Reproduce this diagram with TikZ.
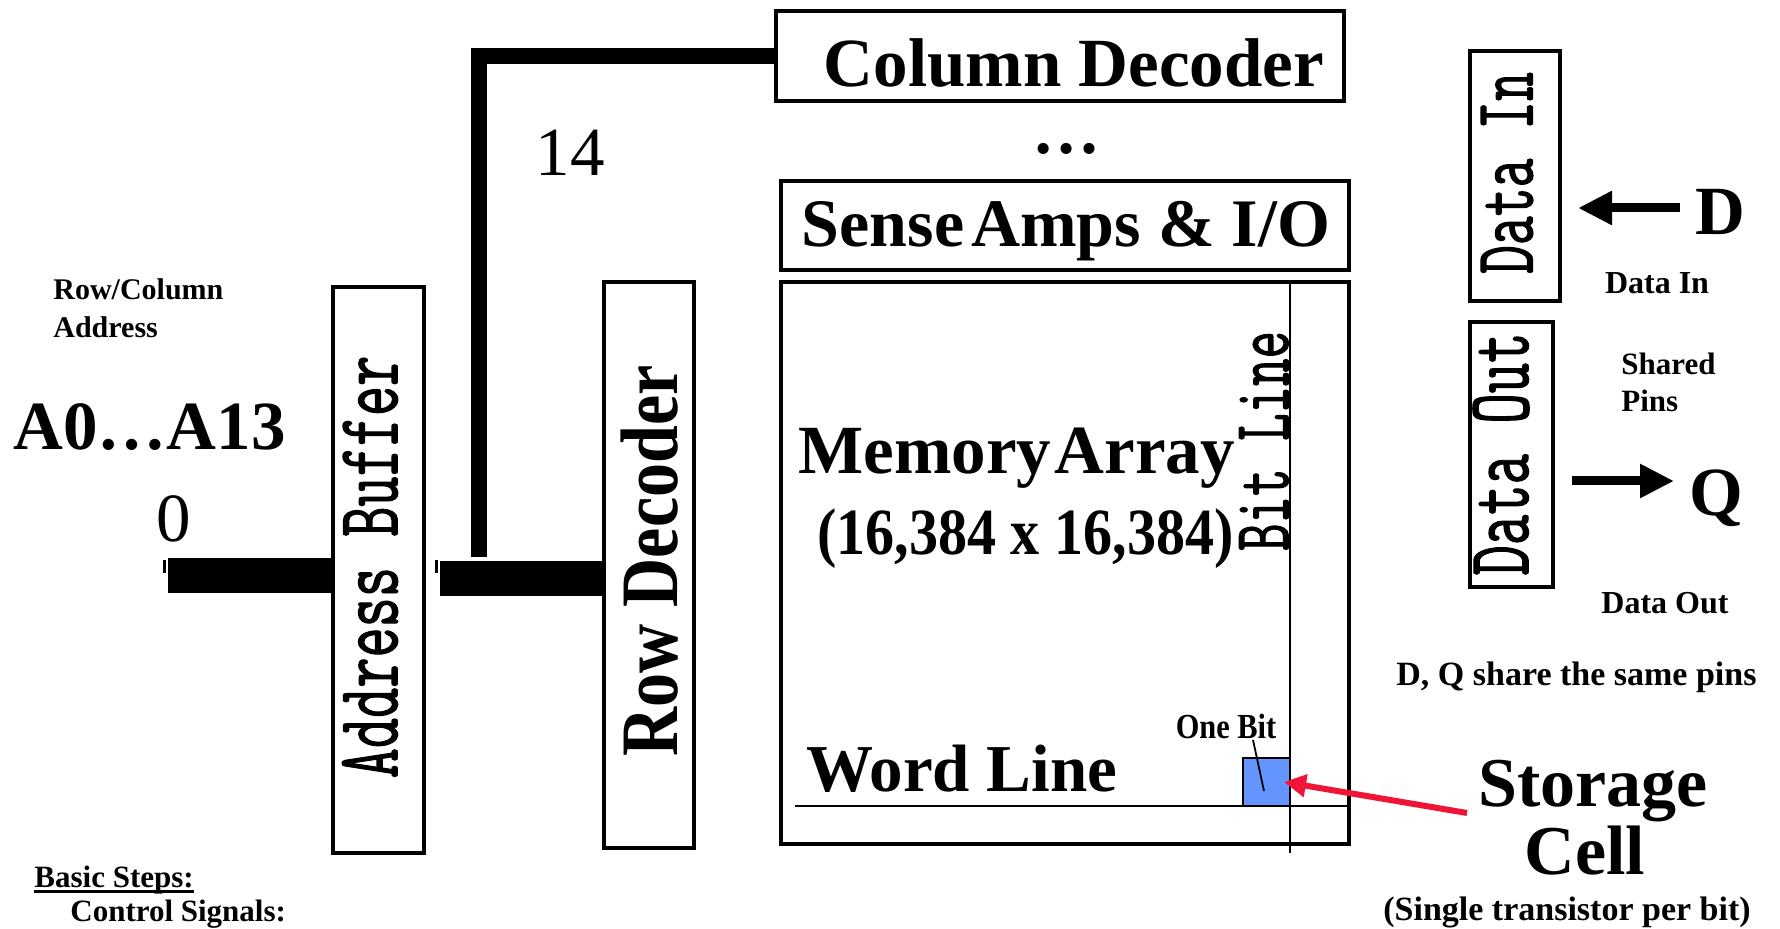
\documentclass[tikz,border=0pt]{standalone}
\usepackage{fontspec}
\setmainfont{Liberation Serif}
\newfontfamily\monof[FakeBold=1.6]{Latin Modern Mono}
\usetikzlibrary{arrows.meta}
\definecolor{cellblue}{RGB}{100,149,255}
\definecolor{arrred}{RGB}{240,20,55}
\newcommand\bsz[1]{\fontsize{#1}{#1}\selectfont\bfseries}
\newcommand\rsz[1]{\fontsize{#1}{#1}\selectfont}
\newcommand\msz[1]{\monof\fontsize{#1}{#1}\selectfont}
\begin{document}
\begin{tikzpicture}[x=0.5pt,y=-0.5pt,
  bx/.style={draw, line width=2.2pt, inner sep=0pt, fill=white},
  lbl/.style={inner sep=0pt, anchor=base},
  lblw/.style={inner sep=0pt, anchor=base west},
  vmono/.style={inner sep=0pt, rotate=90},
  thinline/.style={line width=1.1pt},
  busthin/.style={line width=8pt, line join=miter},
  busthick/.style={line width=17.5pt},
  blkarrow/.style={line width=4.5pt, -{Triangle[length=17pt,width=16pt]}},
  redarrow/.style={arrred, line width=3pt, -{Triangle[length=11pt,width=11pt]}}
]
\useasboundingbox (0,0) rectangle (1780,929);

% boxes
\node[bx, minimum width=284pt, minimum height=45pt] (coldec) at (1060,56) {};
\node[bx, minimum width=284pt, minimum height=44.5pt] (sense) at (1065,225.5) {};
\node[bx, minimum width=284pt, minimum height=281pt] (mem) at (1065,563) {};
\node[bx, minimum width=45.5pt, minimum height=283pt] (addrbuf) at (378.5,570) {};
\node[bx, minimum width=45pt, minimum height=283pt] (rowdec) at (649,565) {};
\node[bx, minimum width=45pt, minimum height=125pt] (datain) at (1515,176) {};
\node[bx, minimum width=41.5pt, minimum height=132.5pt] (dataout) at (1511.5,454.5) {};

% box texts
\node[lbl, font=\bsz{34.5}] (coldect) at (1074,87) {Column Decoder};
\node[lbl, font=\bsz{34}] (dots) at (1066,154) {\ldots};
\node[lbl, font=\bsz{34}] (senset) at (1066,247) {Sense\hspace{0.1em}Amps \& I/O};
\node[lblw, font=\bsz{34.5}] (memt) at (798,474) {Memory\hspace{0.05em}Array};
\node[lblw, font=\bsz{33}] (memsz) at (817,554) {\scalebox{0.88}[1]{(16,384 x 16,384)}};
\node[lblw, font=\bsz{33.5}] (wordt) at (806,791) {Word Line};
\node[vmono, font=\msz{29.3}] (abt) at (370,567) {\scalebox{1}[1.5]{Address Buffer}};
\node[inner sep=0pt, rotate=90, font=\bsz{34}] (rdt) at (650,561) {\scalebox{1}[1.2]{Row Decoder}};
\node[vmono, font=\msz{26.7}] (blt) at (1264,441) {\scalebox{1}[1.5]{Bit Line}};
\node[vmono, font=\msz{28}] (dit) at (1507,173) {\scalebox{1}[1.5]{Data In}};
\node[vmono, font=\msz{29.5}] (dot) at (1501,454) {\scalebox{1}[1.5]{Data Out}};

% lines in memory array
\coordinate (bltop) at (1290,281);
\coordinate (blbot) at (1290,853);
\draw[thinline] (bltop) -- (blbot);
\coordinate (wlstart) at (795,806);
\draw[thinline] (wlstart) -- (wlstart -| mem.east);
\node[draw, line width=1pt, fill=cellblue, minimum width=23.5pt, minimum height=24pt, inner sep=0pt] (cell) at (1266.5,782) {};
\node[lbl, font=\bsz{16}] (onebit) at (1226,738) {\scalebox{0.95}[1.1]{One Bit}};
\coordinate (obtop) at (1253,740);
\coordinate (obbot) at (1264,791);
\draw[line width=0.9pt] (obtop) -- (obbot);

% left labels
\node[lblw, font=\bsz{15}] (rca1) at (53,300) {Row/Column};
\node[lblw, font=\bsz{15}] (rca2) at (53,338) {Address};
\node[lblw, font=\bsz{34.5}] (addr) at (13,450) {A0\ldots A13};
\node[lbl, font=\rsz{34.5}] (zero) at (174,542) {0};
\node[lbl, font=\rsz{34.5}] (fourteen) at (570,176) {14};

% buses
\coordinate (lbusstart) at (168,575.5);
\draw[busthick] (lbusstart) -- (lbusstart -| addrbuf.west);
\coordinate (rbusstart) at (440,578);
\draw[busthick] (rbusstart) -- (rbusstart -| rowdec.west);
\coordinate (vbusend) at (478.5,557);
\draw[busthin] (coldec.west) -| (vbusend);
\coordinate (tick1) at (164.5,560);
\coordinate (tick2) at (436.5,560);
\draw[line width=1.3pt] (tick1) -- ++(0,13);
\draw[line width=1.3pt] (tick2) -- ++(0,13);

% right side
\node[lbl, font=\bsz{34.5}] (D) at (1720,235) {D};
\node[lbl, font=\bsz{34.5}] (Q) at (1716,516) {Q};
\node[lbl, font=\bsz{16}] (dilbl) at (1657,294) {Data In};
\node[lblw, font=\bsz{15.5}] (sp1) at (1621,375) {Shared};
\node[lblw, font=\bsz{15.5}] (sp2) at (1621,412) {Pins};
\node[lbl, font=\bsz{16}] (dolbl) at (1665,613) {Data Out};
\node[lblw, font=\bsz{17}] (dq) at (1396,685) {D, Q share the same pins};
\coordinate (dstart) at (1680,208);
\coordinate (dtip) at (1578,208);
\draw[blkarrow] (dstart) -- (dtip);
\coordinate (qstart) at (1572,481);
\coordinate (qtip) at (1674,481);
\draw[blkarrow] (qstart) -- (qtip);

\node[lbl, font=\bsz{35}] (storage) at (1593,806) {Storage};
\node[lbl, font=\bsz{35}] (celltxt) at (1585,874) {Cell};
\node[lbl, font=\bsz{17}] (single) at (1567,920) {(Single transistor per bit)};
\coordinate (redtail) at (1467,813);
\draw[redarrow] (redtail) -- ([xshift=-3.5pt]cell.east);

% bottom
\node[lblw, font=\bsz{15.5}] (basic) at (34,887) {Basic Steps:};
\draw[line width=1.1pt] ([yshift=-2.2pt]basic.base west) -- ([yshift=-2.2pt]basic.base east);
\node[lblw, font=\bsz{15.5}] (ctrl) at (70,921) {Control Signals:};
\end{tikzpicture}
\end{document}
